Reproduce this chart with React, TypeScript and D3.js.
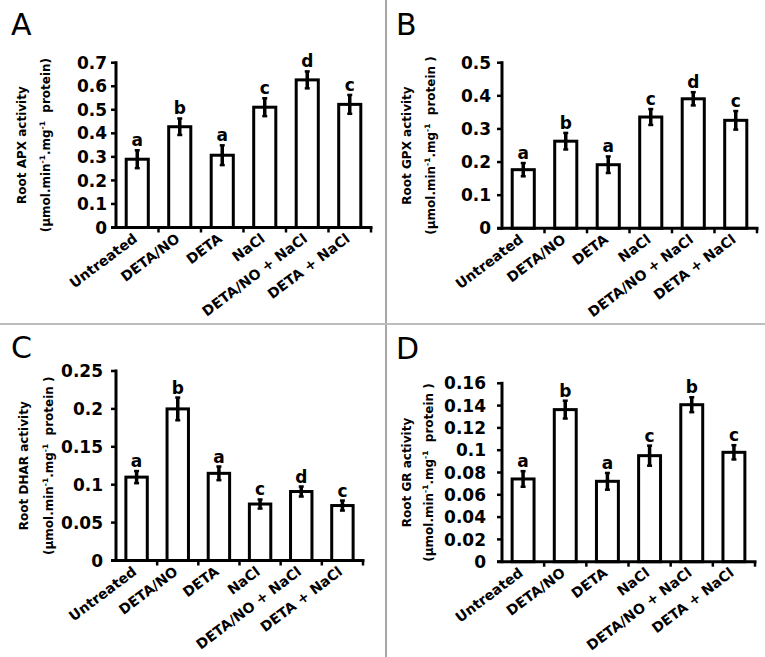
import React from "react";
import * as d3 from "d3";

const CATEGORIES = ["Untreated", "DETA/NO", "DETA", "NaCl", "DETA/NO + NaCl", "DETA + NaCl"];

const APX_VALUES = [0.29, 0.428, 0.307, 0.511, 0.627, 0.523];
const APX_ERRORS = [0.038, 0.035, 0.042, 0.038, 0.036, 0.04];
const APX_LETTERS = ["a", "b", "a", "c", "d", "c"];

const GPX_VALUES = [0.177, 0.263, 0.192, 0.336, 0.391, 0.326];
const GPX_ERRORS = [0.02, 0.025, 0.025, 0.024, 0.02, 0.028];
const GPX_LETTERS = ["a", "b", "a", "c", "d", "c"];

const DHAR_VALUES = [0.11, 0.2, 0.115, 0.0745, 0.091, 0.0725];
const DHAR_ERRORS = [0.008, 0.015, 0.009, 0.006, 0.0066, 0.0066];
const DHAR_LETTERS = ["a", "b", "a", "c", "d", "c"];

const GR_VALUES = [0.0742, 0.1364, 0.0721, 0.0951, 0.1408, 0.0981];
const GR_ERRORS = [0.007, 0.008, 0.0075, 0.009, 0.0067, 0.0064];
const GR_LETTERS = ["a", "b", "a", "c", "b", "c"];

const PANELS = [
  { label: "A", title: "Root APX activity", closeSpace: false, values: APX_VALUES, errors: APX_ERRORS, letters: APX_LETTERS,
    max: 0.7, step: 0.1, x0: 116, x1: 371, y0: 227.5, yTop: 62.7, gap: 9, lx: 11, ly: 35, t1: 26, t2: 50 },
  { label: "B", title: "Root GPX activity", closeSpace: true, values: GPX_VALUES, errors: GPX_ERRORS, letters: GPX_LETTERS,
    max: 0.5, step: 0.1, x0: 502, x1: 757, y0: 228.3, yTop: 62.7, gap: 11, lx: 396, ly: 35, t1: 411, t2: 435 },
  { label: "C", title: "Root DHAR activity", closeSpace: true, values: DHAR_VALUES, errors: DHAR_ERRORS, letters: DHAR_LETTERS,
    max: 0.25, step: 0.05, x0: 116, x1: 363, y0: 560.5, yTop: 371, gap: 13, lx: 11, ly: 358, t1: 28, t2: 53 },
  { label: "D", title: "Root GR activity", closeSpace: true, values: GR_VALUES, errors: GR_ERRORS, letters: GR_LETTERS,
    max: 0.16, step: 0.02, x0: 502, x1: 755, y0: 561.7, yTop: 383.3, gap: 16, lx: 396, ly: 359, t1: 411, t2: 433 },
];

const FONT = "'DejaVu Sans', sans-serif";

function fmt(v: number) {
  return String(Math.round(v * 1000) / 1000);
}

function Panel({ p }: { p: any }) {
  const x = d3.scaleBand<string>().domain(CATEGORIES).range([p.x0, p.x1]);
  const y = d3.scaleLinear().domain([0, p.max]).range([p.y0, p.yTop]);
  const ticks = d3.range(0, p.max + p.step / 2, p.step);
  const bw = x.bandwidth() * 0.52;
  const cy = (p.y0 + p.yTop) / 2;
  const boundaries = CATEGORIES.map((c) => x(c)! + x.bandwidth());
  return (
    <g>
      <text x={p.lx} y={p.ly} fontFamily={FONT} fontSize={30} fill="#000">{p.label}</text>
      <text transform={`translate(${p.t1},${cy}) rotate(-90)`} textAnchor="middle" fontFamily={FONT} fontWeight="bold" fontSize={12} fill="#000">
        {p.title}
      </text>
      <text transform={`translate(${p.t2},${cy}) rotate(-90)`} textAnchor="middle" fontFamily={FONT} fontWeight="bold" fontSize={12} fill="#000" style={{ whiteSpace: "pre" }}>
        <tspan>(μmol.min</tspan>
        <tspan fontSize={7.5} dy={-5}>-1</tspan>
        <tspan dy={5}>.mg</tspan>
        <tspan fontSize={7.5} dy={-5}>-1</tspan>
        <tspan dy={5}>{p.closeSpace ? "  protein )" : "  protein)"}</tspan>
      </text>
      {CATEGORIES.map((c, i) => {
        const cx = x(c)! + x.bandwidth() / 2;
        const v = p.values[i];
        const e = p.errors[i];
        return (
          <g key={c}>
            <rect x={cx - bw / 2} y={y(v)} width={bw} height={p.y0 - y(v)} fill="#fff" stroke="#000" strokeWidth={3} />
            <line x1={cx} x2={cx} y1={y(v + e)} y2={y(v - e)} stroke="#000" strokeWidth={3.5} />
            <line x1={cx - 2.5} x2={cx + 2.5} y1={y(v + e)} y2={y(v + e)} stroke="#000" strokeWidth={2.5} />
            <line x1={cx - 2.5} x2={cx + 2.5} y1={y(v - e)} y2={y(v - e)} stroke="#000" strokeWidth={2.5} />
            <text x={cx} y={y(v + e) - 4} textAnchor="middle" fontFamily={FONT} fontWeight="bold" fontSize={17} fill="#000">
              {p.letters[i]}
            </text>
            <text transform={`translate(${cx + 1},${p.y0 + 13}) rotate(-37)`} textAnchor="end" fontFamily={FONT} fontWeight="bold" fontSize={14} fill="#000">
              {c}
            </text>
          </g>
        );
      })}
      <line x1={p.x0} x2={p.x0} y1={p.y0 + 1.5} y2={p.yTop - 1.5} stroke="#000" strokeWidth={3} />
      {ticks.map((t: number) => (
        <g key={t}>
          <line x1={p.x0 - 5} x2={p.x0} y1={y(t)} y2={y(t)} stroke="#000" strokeWidth={2.5} />
          <text x={p.x0 - p.gap} y={y(t)} dy="0.36em" textAnchor="end" fontFamily={FONT} fontWeight="bold" fontSize={17} fill="#000">
            {fmt(t)}
          </text>
        </g>
      ))}
      <line x1={p.x0 - 5} x2={p.x1 + 1.5} y1={p.y0} y2={p.y0} stroke="#000" strokeWidth={3} />
      {boundaries.map((b, i) => (
        <line key={i} x1={b} x2={b} y1={p.y0} y2={p.y0 + 5} stroke="#000" strokeWidth={2.5} />
      ))}
    </g>
  );
}

export default function App() {
  return (
    <svg width={765} height={657} style={{ position: "absolute", left: 0, top: 0, background: "#fff" }}>
      <rect x={0} y={0} width={765} height={657} fill="#fff" />
      <line x1={386} x2={386} y1={0} y2={657} stroke="#8a8a8a" strokeWidth={1.5} />
      <line x1={0} x2={765} y1={324} y2={324} stroke="#bdbdbd" strokeWidth={2} />
      {PANELS.map((p) => (
        <Panel key={p.label} p={p} />
      ))}
    </svg>
  );
}
